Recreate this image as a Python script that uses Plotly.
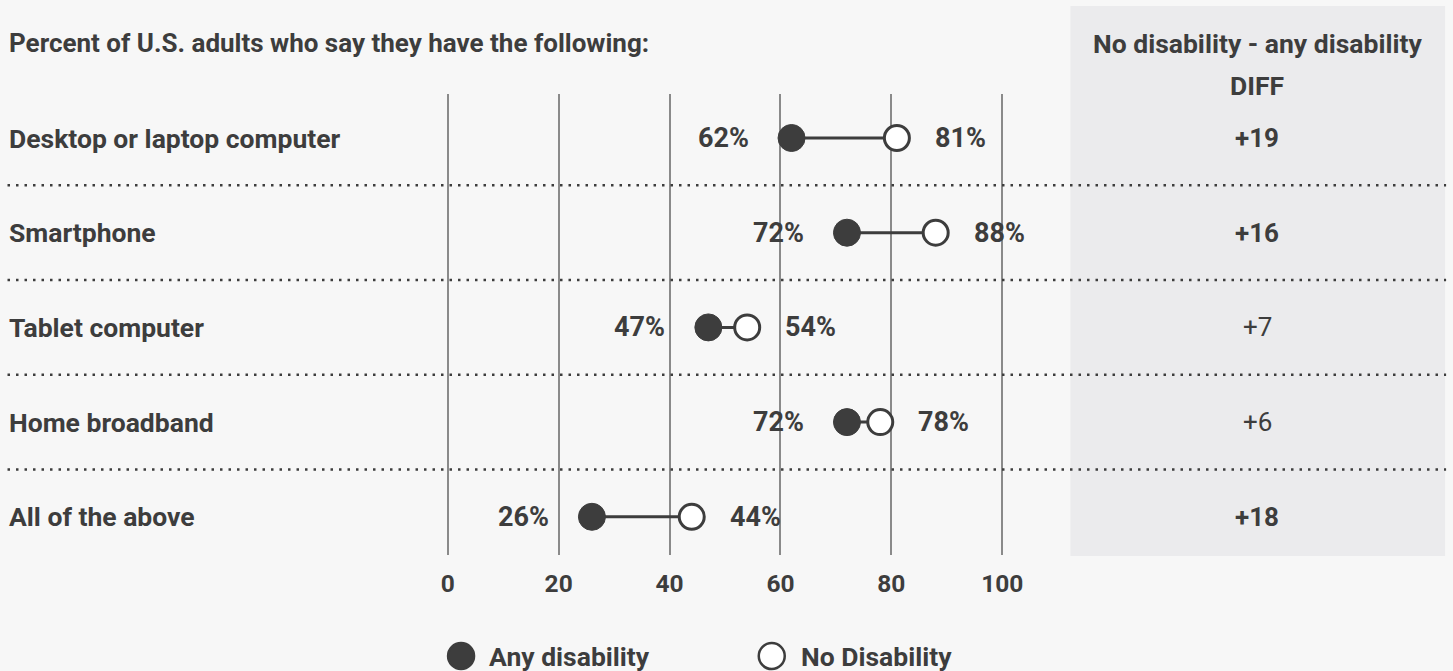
import plotly.graph_objects as go

# ---- data ----
categories = ["Desktop or laptop computer", "Smartphone", "Tablet computer",
              "Home broadband", "All of the above"]
any_disability = [62, 72, 47, 72, 26]
no_disability = [81, 88, 54, 78, 44]
diff_bold = [True, True, False, False, True]
tick_vals = [0, 20, 40, 60, 80, 100]
title_text = "Percent of U.S. adults who say they have the following:"
panel_header = ["No disability - any disability", "DIFF"]
legend_names = ["Any disability", "No Disability"]

# ---- layout helpers ----
W, H = 1453, 671
X0, X100 = 447.7, 1002.7          # pixel positions of 0 and 100
PAD = 0.5
PPU = (X100 - X0) / 100.0
L = X0 - PAD * PPU
R = X100 + PAD * PPU
T, B = 94, 555
ROW0, ROWSTEP = 138.0, 94.7

def xp(px):
    return (px - L) / (R - L)
def yp(py):
    return (B - py) / (B - T)

DARK = "#3d3d3d"
FONT = "Roboto"
BG = "#f7f7f7"
PANEL = "#ebebed"

rows = list(range(len(categories)))

fig = go.Figure()

# connecting lines
lx, ly = [], []
for i, (a, n) in enumerate(zip(any_disability, no_disability)):
    lx += [a, n, None]
    ly += [i, i, None]
fig.add_trace(go.Scatter(x=lx, y=ly, mode="lines",
                         line=dict(color=DARK, width=3),
                         hoverinfo="skip", showlegend=False))
fig.add_trace(go.Scatter(x=any_disability, y=rows, mode="markers",
                         name=legend_names[0],
                         marker=dict(size=27, color=DARK,
                                     line=dict(color=DARK, width=1)),
                         showlegend=False))
fig.add_trace(go.Scatter(x=no_disability, y=rows, mode="markers",
                         name=legend_names[1],
                         marker=dict(size=25, color="white",
                                     line=dict(color=DARK, width=3)),
                         showlegend=False))

annotations = []
shapes = []

# gray panel
shapes.append(dict(type="rect", xref="paper", yref="paper",
                   x0=xp(1071), x1=xp(1446), y0=yp(556), y1=yp(6),
                   fillcolor=PANEL, line=dict(width=0), layer="below"))

# dotted separators
for i in rows[:-1]:
    shapes.append(dict(type="line", xref="paper", yref="y",
                       x0=xp(7), x1=xp(1447), y0=i + 0.5, y1=i + 0.5,
                       line=dict(color=DARK, width=2.5, dash="2.5px,6px")))

# title
annotations.append(dict(text=title_text, xref="paper", yref="paper",
                        x=xp(6), y=yp(43.5), xanchor="left", yanchor="middle",
                        showarrow=False,
                        font=dict(family=FONT, size=26, color=DARK, weight=700)))
# panel header
for txt, py in zip(panel_header, [43.5, 85.5]):
    annotations.append(dict(text=txt, xref="paper", yref="paper",
                            x=xp(1258), y=yp(py), xanchor="center", yanchor="middle",
                            showarrow=False,
                            font=dict(family=FONT, size=26.5, color=DARK, weight=700)))

for i, cat in enumerate(categories):
    a = any_disability[i]
    n = no_disability[i]
    annotations.append(dict(text=cat, xref="paper", yref="y",
                            x=xp(6), y=i, xanchor="left", yanchor="middle",
                            showarrow=False,
                            font=dict(family=FONT, size=26.5, color=DARK, weight=700)))
    annotations.append(dict(text=f"{a}%", xref="x", yref="y", x=a, y=i,
                            xanchor="right", yanchor="middle", xshift=-41,
                            showarrow=False,
                            font=dict(family=FONT, size=27, color=DARK, weight=700)))
    annotations.append(dict(text=f"{n}%", xref="x", yref="y", x=n, y=i,
                            xanchor="left", yanchor="middle", xshift=36,
                            showarrow=False,
                            font=dict(family=FONT, size=27, color=DARK, weight=700)))
    d = n - a
    annotations.append(dict(text=f"+{d}" if d >= 0 else f"{d}",
                            xref="paper", yref="y", x=xp(1258), y=i,
                            xanchor="center", yanchor="middle", showarrow=False,
                            font=dict(family=FONT, size=26, color=DARK,
                                      weight=700 if diff_bold[i] else 400)))

# custom legend
legend_y = 656
for (cx, tx, fill, name) in [(461, 487, DARK, legend_names[0]),
                             (772, 799, "white", legend_names[1])]:
    r = 13
    shapes.append(dict(type="circle", xref="paper", yref="paper",
                       x0=xp(cx - r), x1=xp(cx + r),
                       y0=yp(legend_y + r), y1=yp(legend_y - r),
                       fillcolor=fill, line=dict(color=DARK, width=2.5)))
    annotations.append(dict(text=name, xref="paper", yref="paper",
                            x=xp(tx), y=yp(legend_y), xanchor="left",
                            yanchor="middle", showarrow=False,
                            font=dict(family=FONT, size=26.5, color=DARK, weight=700)))

ymax = (B - ROW0) / ROWSTEP
ymin = -(ROW0 - T) / ROWSTEP

fig.update_layout(
    width=W, height=H,
    margin=dict(l=L, r=W - R, t=T, b=H - B, pad=0),
    paper_bgcolor=BG, plot_bgcolor=BG,
    showlegend=False,
    hovermode=False,
    shapes=shapes, annotations=annotations,
    xaxis=dict(range=[-PAD, 100 + PAD], tickvals=tick_vals,
               ticktext=[str(v) for v in tick_vals],
               showgrid=True, gridcolor="#8a8a8a", gridwidth=1.5,
               zeroline=False, showline=False, ticks="",
               ticklabelstandoff=11,
               tickfont=dict(family=FONT, size=24.5, color=DARK, weight=700),
               fixedrange=True),
    yaxis=dict(range=[ymax, ymin], showgrid=False, zeroline=False,
               showticklabels=False, showline=False, fixedrange=True),
)

fig.write_html("out.html",
               config={"displayModeBar": False},
               post_script="document.body.style.margin='0';"
                           "document.body.style.background='#f7f7f7';"
                           "document.body.style.overflow='hidden';")
